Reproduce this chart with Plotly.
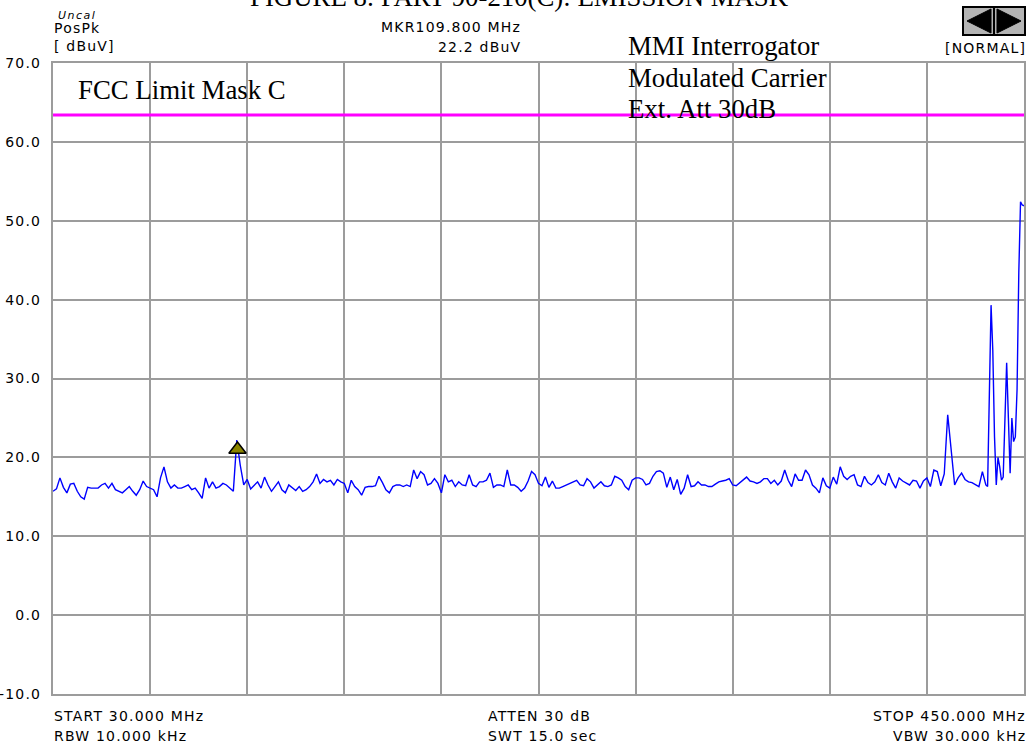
import plotly.graph_objects as go

# ---------------- data ----------------
freq_start_mhz = 30.0
freq_stop_mhz = 450.0
freq_step_mhz = 1.5

levels_main = [
    15.7, 16.0, 17.4, 16.2, 15.5, 16.6, 16.7, 15.7, 15.0, 14.7,
    16.2, 16.1, 16.1, 16.1, 16.5, 16.7, 16.1, 16.7, 15.9, 15.7,
    15.5, 15.9, 16.3, 15.7, 15.2, 15.9, 17.0, 16.3, 16.1, 15.9,
    15.0, 17.4, 18.8, 16.9, 16.1, 16.5, 16.1, 16.1, 16.3, 16.5,
    15.9, 16.1, 15.5, 14.8, 17.4, 16.1, 16.9, 16.1, 16.3, 16.7,
    16.5, 16.1, 15.7, 22.2, 19.0, 16.5, 17.2, 16.0, 16.5, 16.9,
    16.1, 17.5, 16.5, 15.7, 16.3, 16.9, 15.9, 15.5, 16.5, 16.1,
    15.8, 16.3, 15.7, 15.9, 16.3, 16.9, 17.9, 16.7, 17.2, 16.9,
    17.1, 16.5, 17.2, 16.9, 16.7, 15.5, 17.1, 16.3, 15.9, 15.2,
    16.2, 16.3, 16.3, 16.4, 17.6, 16.8, 15.9, 15.5, 16.3, 16.5,
    16.5, 16.3, 16.5, 16.3, 18.4, 17.3, 18.2, 17.8, 16.5, 16.7,
    17.3, 16.7, 15.5, 17.8, 16.9, 17.1, 16.3, 16.9, 16.5, 16.4,
    17.8, 16.5, 16.3, 16.9, 16.9, 17.1, 18.0, 16.2, 16.5, 16.5,
    16.3, 18.4, 16.5, 16.5, 16.2, 15.7, 16.1, 17.0, 18.2, 17.8,
    16.7, 16.4, 17.5, 16.2, 17.0, 16.1, 16.1, 16.3, 16.5, 16.7,
    16.9, 17.1, 16.5, 16.4, 17.3, 16.9, 16.1, 16.5, 16.9, 16.4,
    16.3, 16.5, 17.6, 17.4, 17.1, 16.3, 15.9, 17.1, 17.4, 17.4,
    17.2, 16.5, 16.7, 17.6, 18.2, 18.3, 18.0, 16.2, 17.5, 15.9,
    17.2, 15.3, 16.1, 17.8, 16.3, 16.4, 16.9, 16.5, 16.5, 16.3,
    16.3, 16.6, 16.9, 17.0, 17.1, 17.3, 16.5, 16.4, 16.8, 17.2,
    17.5, 17.0, 16.9, 16.7, 16.9, 17.3, 17.3, 16.7, 17.1, 16.5,
    17.0, 18.4, 17.1, 16.3, 17.9, 17.1, 17.1, 18.4, 17.8, 16.5,
    16.1, 15.5, 17.4, 16.4, 16.1, 17.5, 16.6, 18.8, 17.6, 17.2,
    17.6, 17.8, 16.5, 16.3, 17.6, 16.8, 16.5, 16.9, 17.8, 16.8,
    16.5, 18.0, 16.9, 16.1, 17.4, 17.0, 16.7, 16.5, 17.1, 17.0,
    16.1, 17.0, 17.4, 16.3, 18.4, 18.2, 16.4, 17.9, 25.4, 21.0,
    16.5, 17.4, 18.0, 17.2, 16.9, 16.8, 16.5, 16.3, 18.2, 16.5,
]
freq_main = [freq_start_mhz + freq_step_mhz * i for i in range(len(levels_main))]

freq_tail = [434.25, 435.0, 435.75, 436.5, 437.25, 438.0, 438.75, 439.5, 440.25,
             441.0, 441.75, 442.5, 443.25, 444.0, 444.75, 445.5, 446.25, 447.0,
             447.75, 448.5, 449.25, 450.0]
levels_tail = [16.3, 27.7, 39.3, 33.6, 22.6, 16.5, 20.0, 18.8, 17.1,
               17.5, 24.8, 32.0, 25.0, 18.0, 25.0, 22.0, 22.6, 28.6,
               43.4, 52.4, 52.0, 51.9]

trace_freq = freq_main + freq_tail
trace_level = levels_main + levels_tail

limit_freq = [freq_start_mhz, freq_stop_mhz]
limit_level = [63.4, 63.4]

marker_freq = [109.8]
marker_level = [21.0]

y_tick_values = [70, 60, 50, 40, 30, 20, 10, 0, -10]
y_tick_labels = ["70.0", "60.0", "50.0", "40.0", "30.0", "20.0", "10.0", "0.0", "-10.0"]
x_grid_step = 42

# ---------------- figure ----------------
W, H = 1034, 747
L, R, T, B = 53, 10, 63, 53
PW, PH = W - L - R, H - T - B

def px(x):
    return (x - L) / PW

def py(y):
    return (H - B - y) / PH

def sp(t, ls=1.2):
    return f'<span style="letter-spacing:{ls}px">{t}</span>'

GRID = "#9c9c9c"
INST_FONT = dict(family="DejaVu Sans", size=14, color="black")
SERIF = dict(family="Liberation Serif, Times New Roman, serif", size=26.8, color="black")

fig = go.Figure()
fig.add_trace(go.Scatter(x=trace_freq, y=trace_level, mode="lines",
                         line=dict(color="#0000ff", width=1.4), showlegend=False,
                         hoverinfo="skip"))
fig.add_trace(go.Scatter(x=limit_freq, y=limit_level, mode="lines",
                         line=dict(color="#ff00ff", width=3), showlegend=False,
                         hoverinfo="skip"))
fig.add_trace(go.Scatter(x=marker_freq, y=marker_level, mode="markers",
                         marker=dict(symbol="triangle-up", size=15, color="#8a8400",
                                     line=dict(color="black", width=1.5)),
                         showlegend=False, hoverinfo="skip"))

fig.update_layout(
    width=W, height=H,
    margin=dict(l=L, r=R, t=T, b=B, pad=0, autoexpand=False),
    paper_bgcolor="white", plot_bgcolor="white",
    xaxis=dict(range=[freq_start_mhz, freq_stop_mhz], tick0=freq_start_mhz, dtick=x_grid_step,
               showticklabels=False, showgrid=True, gridcolor=GRID, gridwidth=2,
               showline=True, linecolor=GRID, linewidth=2, mirror=True, zeroline=False,
               ticks="", automargin=False),
    yaxis=dict(range=[-10, 70], tickvals=y_tick_values,
               ticktext=[sp(t) for t in y_tick_labels], tickfont=INST_FONT,
               showgrid=True, gridcolor=GRID, gridwidth=2,
               showline=True, linecolor=GRID, linewidth=2, mirror=True, zeroline=False,
               ticks="", ticklabelstandoff=7, automargin=False),
)

ann = []
def add_text(text, x, y, xanchor, font, xref="paper", yref="paper"):
    ann.append(dict(text=text, x=x, y=y, xref=xref, yref=yref, xanchor=xanchor,
                    yanchor="middle", showarrow=False, font=font, borderpad=0))

# title (cut off at top, as in the source picture)
add_text("FIGURE 8: PART 90-210(C): EMISSION MASK", px(519), py(-3.5), "center", SERIF)

# instrument header texts
add_text(sp("<i>Uncal</i>", 1.5), px(57), py(16), "left",
         dict(family="DejaVu Sans", size=11, color="black"))
add_text(sp("PosPk"), px(53), py(28), "left", INST_FONT)
add_text(sp("[ dBuV]"), px(53), py(46), "left", INST_FONT)
add_text(sp("MKR109.800 MHz"), px(522), py(27), "right", INST_FONT)
add_text(sp("22.2 dBuV"), px(522), py(47), "right", INST_FONT)
add_text(sp("[NORMAL]"), px(1027), py(48), "right", INST_FONT)

# footer texts
add_text(sp("START 30.000 MHz"), px(53), py(716), "left", INST_FONT)
add_text(sp("RBW 10.000 kHz"), px(53), py(736), "left", INST_FONT)
add_text(sp("ATTEN 30 dB"), px(487), py(716), "left", INST_FONT)
add_text(sp("SWT 15.0 sec"), px(487), py(736), "left", INST_FONT)
add_text(sp("STOP 450.000 MHz"), px(1027), py(716), "right", INST_FONT)
add_text(sp("VBW 30.000 kHz"), px(1027), py(736), "right", INST_FONT)

# chart annotations
add_text("FCC Limit Mask C", px(77), py(90), "left", SERIF)
add_text("MMI Interrogator", px(627), py(46), "left", SERIF)
add_text("Modulated Carrier", px(627), py(78), "left", SERIF)
add_text("Ext. Att 30dB", px(627), py(109), "left", SERIF)

fig.update_layout(annotations=ann)

# scroll icon (top right)
def path(pts):
    return "M " + " L ".join(f"{px(a)} {py(b)}" for a, b in pts) + " Z"

shapes = [
    dict(type="rect", xref="paper", yref="paper", x0=px(963), x1=px(1025), y0=py(35), y1=py(7),
         fillcolor="#b4b4b4", line=dict(color="black", width=2), layer="above"),
    dict(type="line", xref="paper", yref="paper", x0=px(994), x1=px(994), y0=py(35), y1=py(7),
         line=dict(color="black", width=2), layer="above"),
    dict(type="path", xref="paper", yref="paper", path=path([(967, 21), (991, 9), (991, 33)]),
         fillcolor="black", line=dict(color="black", width=1), layer="above"),
    dict(type="path", xref="paper", yref="paper", path=path([(997, 9), (997, 33), (1021, 21)]),
         fillcolor="black", line=dict(color="black", width=1), layer="above"),
]
fig.update_layout(shapes=shapes)

fig.write_html("out.html")
